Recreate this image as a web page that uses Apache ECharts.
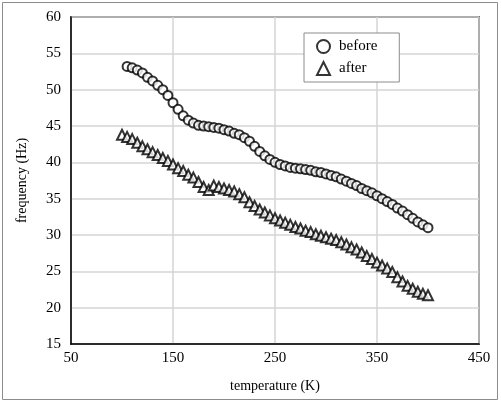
<!DOCTYPE html>
<html>
<head>
<meta charset="utf-8">
<script src="https://cdn.jsdelivr.net/npm/echarts@6/dist/echarts.min.js"></script>
<style>
  html, body { margin: 0; padding: 0; background: #fff; }
  #main { width: 501px; height: 404px; }
</style>
</head>
<body>
<div id="main"></div>
<script>
// temperature (K) for each measurement
const tempBefore = [105,110,115,120,125,130,135,140,145,150,155,160,165,170,175,180,185,190,195,200,
  205,210,215,220,225,230,235,240,245,250,255,260,265,270,275,280,285,290,295,300,
  305,310,315,320,325,330,335,340,345,350,355,360,365,370,375,380,385,390,395,400];
const freqBefore = [53.2,53.0,52.7,52.3,51.7,51.2,50.6,50.0,49.2,48.2,47.3,46.4,45.8,45.4,45.1,45.0,44.9,44.8,44.7,44.5,
  44.3,44.0,43.8,43.4,42.9,42.2,41.5,40.9,40.4,40.0,39.7,39.5,39.3,39.2,39.1,39.0,38.9,38.7,38.6,38.4,
  38.2,38.0,37.7,37.4,37.1,36.8,36.4,36.1,35.8,35.4,35.0,34.6,34.2,33.7,33.3,32.8,32.3,31.8,31.4,31.0];

const tempAfter = [100,105,110,115,120,125,130,135,140,145,150,155,160,165,170,175,180,185,190,195,200,
  205,210,215,220,225,230,235,240,245,250,255,260,265,270,275,280,285,290,295,300,
  305,310,315,320,325,330,335,340,345,350,355,360,365,370,375,380,385,390,395,400];
const freqAfter = [43.8,43.5,43.2,42.7,42.2,41.8,41.4,41.0,40.6,40.2,39.7,39.2,38.8,38.3,37.9,37.3,36.6,36.2,36.8,36.6,36.4,
  36.2,36.0,35.6,35.2,34.5,34.0,33.5,33.1,32.7,32.3,32.0,31.7,31.4,31.1,30.9,30.6,30.4,30.1,29.9,29.7,
  29.5,29.3,29.0,28.7,28.3,28.0,27.6,27.1,26.7,26.2,25.8,25.4,24.9,24.2,23.6,23.0,22.6,22.2,21.9,21.7];

const serif = '"Liberation Serif", "Times New Roman", serif';

function pairs(xs, ys) {
  return xs.map((x, i) => [x, ys[i]]);
}

const chart = echarts.init(document.getElementById('main'));

chart.setOption({
  animation: false,
  backgroundColor: '#fff',
  textStyle: { fontFamily: serif, color: '#000' },
  graphic: [{
    type: 'rect',
    shape: { x: 2.5, y: 2.5, width: 495, height: 397 },
    style: { fill: 'none', stroke: '#8c8c8c', lineWidth: 1 },
    silent: true
  }],
  grid: {
    left: 71, right: 22, top: 17, bottom: 60,
    show: true, borderColor: '#000', borderWidth: 1.5
  },
  legend: {
    orient: 'vertical',
    left: 304, top: 33,
    padding: [6, 22, 6, 12],
    itemGap: 7,
    itemWidth: 13, itemHeight: 13,
    backgroundColor: '#fff',
    borderColor: '#8c8c8c', borderWidth: 1,
    textStyle: { fontFamily: serif, fontSize: 15, color: '#000', padding: [0, 0, 0, 4] },
    data: ['before', 'after']
  },
  xAxis: {
    type: 'value',
    min: 50, max: 450, interval: 100,
    name: 'temperature (K)',
    nameLocation: 'middle', nameGap: 35,
    nameTextStyle: { fontFamily: serif, fontSize: 14, color: '#000' },
    axisLine: { lineStyle: { color: '#000', width: 1.5 } },
    axisTick: { show: false },
    axisLabel: { fontFamily: serif, fontSize: 15, color: '#000', margin: 7 },
    splitLine: { lineStyle: { color: '#d4d4d4', width: 1.5 } }
  },
  yAxis: {
    type: 'value',
    min: 15, max: 60, interval: 5,
    name: 'frequency (Hz)',
    nameLocation: 'middle', nameGap: 42,
    nameTextStyle: { fontFamily: serif, fontSize: 14, color: '#000' },
    axisLine: { lineStyle: { color: '#000', width: 1.5 } },
    axisTick: { show: false },
    axisLabel: { fontFamily: serif, fontSize: 15, color: '#000', margin: 10 },
    splitLine: { lineStyle: { color: '#d4d4d4', width: 1.5 } }
  },
  series: [
    {
      name: 'before',
      type: 'scatter',
      symbol: 'circle',
      symbolSize: 9,
      itemStyle: { color: '#fff', borderColor: '#000', borderWidth: 2 },
      data: pairs(tempBefore, freqBefore)
    },
    {
      name: 'after',
      type: 'scatter',
      symbol: 'triangle',
      symbolSize: 10,
      itemStyle: { color: '#fff', borderColor: '#000', borderWidth: 2 },
      data: pairs(tempAfter, freqAfter)
    }
  ]
});
</script>
</body>
</html>
